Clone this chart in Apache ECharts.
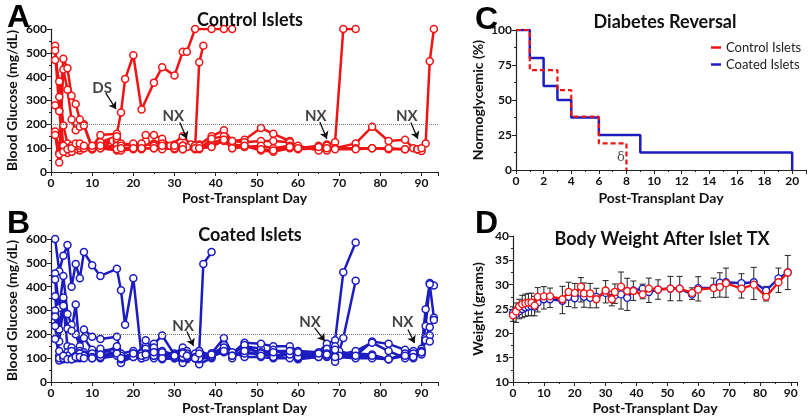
<!DOCTYPE html>
<html>
<head>
<meta charset="utf-8">
<script src="https://cdn.jsdelivr.net/npm/echarts@6/dist/echarts.min.js"></script>
<style>
  html, body { margin: 0; padding: 0; background: #fff; }
  #chart { width: 810px; height: 420px; }
</style>
</head>
<body>
<div id="chart"></div>
<script>
// ---- panel A: control islets, blood glucose per mouse [day, mg/dL]
var controlMice = [
  [[1,470],[2,380],[3,195],[4,120],[5,110],[6,105],[7,100],[10,105],[12,155],[16,160],[17,250],[18,390],[20,490],[22,262],[25,375],[27,440],[30,405],[32,505],[33,505],[35,600],[39,600],[42,600],[44,600]],
  [[1,530],[2,315],[3,100],[4,90],[5,95],[6,100],[7,90],[10,100],[12,120],[15,130],[16,130],[17,115],[20,110],[22,110],[23,125],[25,120],[27,130],[29,110],[32,150],[34,115],[35,100],[36,460],[37,530]],
  [[1,510],[2,260],[3,90],[4,100],[5,85],[6,95],[7,100],[8,100],[10,95],[12,105],[16,110],[17,95],[20,100],[22,100],[25,100],[27,100],[30,95],[32,95],[35,95],[36,100],[39,120],[42,140],[44,115],[47,110],[51,90],[54,85],[58,100],[60,95],[65,100],[67,115],[69,125],[71,600],[74,600]],
  [[1,160],[2,40],[3,110],[4,80],[5,85],[6,110],[7,110],[8,100],[10,95],[12,100],[16,90],[17,90],[20,95],[22,95],[23,130],[25,115],[27,95],[30,100],[33,105],[36,115],[39,150],[42,175],[44,130],[47,135],[51,185],[54,160],[58,130],[60,105],[65,100],[67,100],[69,100],[74,120],[78,190],[82,130],[86,135],[88,100],[89,95],[90,88],[91,120],[92,465],[93,600]],
  [[1,170],[2,80],[3,430],[4,345],[5,220],[6,175],[7,190],[8,200],[10,100],[12,100],[16,140],[17,120],[20,115],[22,110],[23,155],[25,155],[27,140],[30,100],[32,110],[35,110],[36,95],[39,140],[42,150],[44,130],[47,125],[51,130],[54,130],[58,125],[60,100],[65,110],[67,110],[69,100],[74,100],[78,100],[82,95],[86,95],[89,95]],
  [[1,280],[2,255],[3,475],[4,435],[5,320],[6,285],[7,220],[8,195],[10,100],[12,125],[16,150],[17,110],[20,120],[22,120],[25,110],[27,120],[30,115],[32,110],[35,110],[36,110],[39,110],[42,130],[44,100],[47,105],[51,110],[54,100],[58,110],[60,110],[65,90],[67,90]],
  [[1,155],[2,75],[3,85],[4,95],[5,100],[6,120],[7,120],[8,110],[10,110],[12,110],[16,95],[17,100],[20,100],[22,100],[25,100],[27,110],[30,110],[32,95],[35,100],[36,100],[39,105],[42,135],[44,100],[47,110],[51,95],[54,90],[58,105],[60,100],[65,105],[67,100],[69,95],[74,95],[78,100],[82,100],[86,95],[89,95],[90,100]]
];

// ---- panel B: coated islets
var coatedMice = [
  [[1,600],[2,465],[3,530],[4,575],[5,400],[6,495],[7,435],[8,545],[10,490],[12,445],[16,475],[17,385],[18,240],[20,435],[22,110],[23,150],[25,160],[27,195],[30,115],[32,100],[33,110],[36,130],[39,110],[42,140],[44,120],[47,150],[51,140],[54,110],[58,120],[60,110],[65,110],[67,130],[69,110],[74,110],[78,170],[82,160],[86,135],[88,130],[90,140],[91,305],[92,415],[93,405]],
  [[1,455],[2,310],[3,445],[4,285],[5,240],[6,200],[7,150],[8,220],[10,190],[12,180],[16,190],[17,120],[20,130],[22,125],[23,175],[25,130],[27,120],[30,120],[32,145],[33,130],[35,110],[36,130],[37,495],[39,545]],
  [[1,430],[2,220],[3,355],[4,225],[5,215],[6,325],[7,130],[8,185],[10,135],[12,130],[16,140],[17,100],[20,120],[22,115],[23,130],[25,145],[27,130],[30,115],[32,125],[33,120],[35,105],[36,110],[39,120],[42,185],[44,120],[47,165],[51,160],[54,150],[58,150],[60,130],[65,125],[67,160],[69,175],[71,460],[74,585]],
  [[1,360],[2,170],[3,320],[4,150],[5,145],[6,120],[7,120],[8,125],[10,115],[12,110],[16,125],[17,110],[20,110],[22,110],[23,110],[25,120],[27,110],[30,110],[32,100],[33,95],[35,100],[36,75],[39,100],[42,155],[44,100],[47,140],[51,125],[54,130],[58,130],[60,120],[65,115],[67,140],[69,150],[70,130],[71,185],[74,425]],
  [[1,300],[2,110],[3,110],[4,125],[5,130],[6,110],[7,110],[8,115],[10,120],[12,140],[16,115],[17,85],[20,105],[22,100],[23,140],[25,100],[27,105],[30,100],[32,80],[33,100],[35,100],[36,95],[39,105],[42,130],[44,115],[47,155],[51,115],[54,135],[58,110],[60,95],[65,105],[67,120],[69,85],[70,110],[74,120],[78,115],[82,95],[86,115],[88,100],[90,130],[91,235],[92,410],[93,270]],
  [[1,275],[2,90],[3,95],[4,100],[5,95],[6,100],[7,100],[8,110],[10,100],[12,100],[16,110],[17,80],[20,115],[22,100],[23,105],[25,110],[27,95],[30,100],[32,100],[33,105],[35,120],[36,110],[39,120],[42,145],[44,125],[47,105],[51,105],[54,100],[58,100],[60,100],[65,110],[67,105],[69,110],[74,130],[78,165],[82,130],[86,100],[88,110],[90,115],[91,185],[92,230],[93,260]],
  [[1,235],[2,100],[3,100],[4,110],[5,100],[6,105],[7,120],[8,110],[10,105],[12,105],[16,120],[17,95],[20,105],[22,120],[23,120],[25,110],[27,125],[30,105],[32,105],[33,110],[35,105],[36,100],[39,110],[42,125],[44,110],[47,120],[51,120],[54,105],[58,115],[60,105],[65,105],[67,110],[69,105],[74,100],[78,100],[82,95],[86,120],[88,120],[90,125],[91,185],[92,195]],
  [[1,180],[2,130],[3,110],[4,95],[5,95],[6,105],[7,105],[8,100],[10,100],[12,115],[16,150],[17,100],[20,120],[22,110],[23,115],[25,125],[27,100],[30,110],[32,120],[33,110],[35,100],[36,120],[39,115],[42,130],[44,110],[47,130],[51,110],[54,125],[58,130],[60,125],[65,120],[67,115],[69,135],[74,110],[78,110],[82,95],[86,110],[88,105],[90,125],[91,175],[92,170]]
];

// annotations: [text, textDay, textValue, arrowFromDay, arrowFromValue, arrowToDay, arrowToValue]
var notesA = [
  ['DS', 12.4, 352, 13.3, 331, 15.8, 264],
  ['NX', 29.7, 235, 31.3, 208, 33.0, 140],
  ['NX', 64.3, 235, 65.3, 210, 67.0, 140],
  ['NX', 86.4, 235, 87.4, 208, 89.1, 140]
];
var notesB = [
  ['NX', 32.1, 236, 33.0, 212, 34.6, 152],
  ['NX', 62.9, 252, 64.0, 228, 66.5, 172],
  ['NX', 85.4, 252, 86.7, 220, 88.3, 164]
];

// ---- panel C: Kaplan-Meier, % normoglycemic
var reversalControl = [[0,100],[1,71.4],[3,57.1],[4,38.1],[6,19],[8,0]];
var reversalCoated = [[0,100],[1,80],[2,60],[3,50],[4,37.5],[6,25],[9,12.5],[20,0]];

// ---- panel D: body weight (grams)
var weightDays = [0,1,2,3,4,5,6,7,8,10,12,16,18,20,22,23,25,27,30,32,33,35,37,39,42,44,47,51,54,58,60,65,67,69,74,78,82,86,89];
var weightControl = [23.7,24.5,25.5,26,26.2,26.3,26.3,25.7,27.5,27.6,27.6,27,28.5,28.3,29.6,28.2,28.2,27,28.8,27,28.5,29.6,28.7,28.7,28,29.2,29,29.2,29.2,28.3,29,29.3,29.5,30.3,29.2,30,27.5,30.5,32.5];
var weightCoated = [24.2,24,24.5,25,25.3,25.5,25.6,25.5,26.3,27,27,26.7,27.5,27.2,28.3,27.5,27.3,27.5,28.3,27.3,27.8,28,27.3,28.8,29.2,28.5,29,29.2,29.2,28,29.3,29.4,30.4,30.5,30.3,30.5,28.8,31.3,32.5];
var weightSD = [1.5,2,2,2.3,2.3,2.3,2.3,2,2.5,2.3,2,2.8,2.5,2.5,2.5,2.5,2.5,2,2.3,1.5,2,3.8,3.3,2,1.5,2.5,2,2.5,2.5,1.2,2.5,2,2.5,3,2.5,3.3,1.5,2.5,3.5];

var RED = '#f01414';
var BLUE = '#1c1cc0';
var FONT = 'Lato';

var chart = echarts.init(document.getElementById('chart'));

function xAxisFor(grid, max, interval, name, nameGap) {
  return {
    type: 'value', gridIndex: grid, min: 0, max: max, interval: interval,
    name: name, nameLocation: 'middle', nameGap: nameGap,
    nameTextStyle: { fontFamily: FONT, fontWeight: 'bold', fontSize: 14, color: '#111' },
    axisLine: { lineStyle: { color: '#222', width: 1.2 } },
    axisTick: { length: 4, lineStyle: { color: '#222' } },
    minorTick: { show: true, splitNumber: 2, length: 2, lineStyle: { color: '#222' } },
    axisLabel: {
      fontFamily: FONT, fontWeight: 'bold', fontSize: 12, color: '#111', margin: 5,
      formatter: function (v) { return v % interval === 0 ? v : ''; }
    },
    splitLine: { show: false }
  };
}
function yAxisFor(grid, min, max, interval, name, nameGap) {
  return {
    type: 'value', gridIndex: grid, min: min, max: max, interval: interval,
    name: name, nameLocation: 'middle', nameGap: nameGap, nameRotate: 90,
    nameTextStyle: { fontFamily: FONT, fontWeight: 'bold', fontSize: 14, color: '#111' },
    axisLine: { show: true, lineStyle: { color: '#222', width: 1.2 } },
    axisTick: { show: true, length: 4, lineStyle: { color: '#222' } },
    minorTick: { show: true, splitNumber: 2, length: 2, lineStyle: { color: '#222' } },
    axisLabel: { fontFamily: FONT, fontWeight: 'bold', fontSize: 12, color: '#111', margin: 4 },
    splitLine: { show: false }
  };
}

function glucoseSeries(mice, idx, color) {
  return mice.map(function (m) {
    return {
      type: 'line', xAxisIndex: idx, yAxisIndex: idx, data: m,
      symbol: 'circle', symbolSize: 7, showAllSymbol: true,
      lineStyle: { color: color, width: 2.5 },
      itemStyle: { color: '#fff', borderColor: color, borderWidth: 1.5 },
      emphasis: { disabled: true }, z: 3
    };
  });
}

function thresholdSeries(idx) {
  return {
    type: 'line', xAxisIndex: idx, yAxisIndex: idx, data: [], silent: true,
    markLine: {
      symbol: 'none', silent: true, label: { show: false },
      lineStyle: { color: '#777', type: 'dotted', width: 1 },
      data: [{ yAxis: 200 }]
    }, z: 1
  };
}

function noteSeries(notes, idx) {
  return [{
    type: 'scatter', xAxisIndex: idx, yAxisIndex: idx, symbolSize: 0, silent: true,
    data: notes.map(function (n) { return { value: [n[1], n[2]], name: n[0] }; }),
    label: {
      show: true, position: 'inside', formatter: '{b}',
      fontFamily: FONT, fontWeight: 'bold', fontSize: 15, color: '#111'
    }, z: 5
  }, {
    type: 'line', xAxisIndex: idx, yAxisIndex: idx, data: [], silent: true,
    markLine: {
      silent: true, symbol: ['none', 'arrow'], symbolSize: 7, label: { show: false },
      lineStyle: { color: '#111', type: 'solid', width: 1.3 },
      data: notes.map(function (n) { return [{ coord: [n[3], n[4]] }, { coord: [n[5], n[6]] }]; })
    }, z: 5
  }];
}

var series = []
  .concat(thresholdSeries(0))
  .concat(glucoseSeries(controlMice, 0, RED))
  .concat(noteSeries(notesA, 0))
  .concat(thresholdSeries(1))
  .concat(glucoseSeries(coatedMice, 1, BLUE))
  .concat(noteSeries(notesB, 1));

// panel C
series.push({
  name: 'Coated Islets', type: 'line', step: 'end', xAxisIndex: 2, yAxisIndex: 2,
  data: reversalCoated, symbol: 'none', lineStyle: { color: BLUE, width: 2.5 },
  itemStyle: { color: BLUE }, z: 3
});
series.push({
  name: 'Control Islets', type: 'line', step: 'end', xAxisIndex: 2, yAxisIndex: 2,
  data: reversalControl, symbol: 'none', lineStyle: { color: RED, width: 2.2, type: [5, 3] },
  itemStyle: { color: RED }, z: 4
});
series.push({
  type: 'scatter', xAxisIndex: 2, yAxisIndex: 2, symbolSize: 0, silent: true,
  data: [{ value: [7.6, 9], name: 'δ' }],
  label: { show: true, position: 'inside', formatter: '{b}', fontFamily: 'DejaVu Serif', fontSize: 13, color: '#222' }
});

// panel D
function zip(days, vals) { return days.map(function (d, i) { return [d, vals[i]]; }); }
series.push({
  type: 'custom', xAxisIndex: 3, yAxisIndex: 3, silent: true, z: 2,
  data: weightDays.map(function (d, i) {
    var mid = (weightControl[i] + weightCoated[i]) / 2;
    return [d, mid - weightSD[i], mid + weightSD[i]];
  }),
  renderItem: function (params, api) {
    var lo = api.coord([api.value(0), api.value(1)]);
    var hi = api.coord([api.value(0), api.value(2)]);
    var w = 3;
    var st = { stroke: '#333', lineWidth: 1.1 };
    return {
      type: 'group', children: [
        { type: 'line', shape: { x1: lo[0], y1: lo[1], x2: hi[0], y2: hi[1] }, style: st },
        { type: 'line', shape: { x1: lo[0] - w, y1: lo[1], x2: lo[0] + w, y2: lo[1] }, style: st },
        { type: 'line', shape: { x1: hi[0] - w, y1: hi[1], x2: hi[0] + w, y2: hi[1] }, style: st }
      ]
    };
  }
});
series.push({
  type: 'line', xAxisIndex: 3, yAxisIndex: 3, data: zip(weightDays, weightCoated),
  symbol: 'circle', symbolSize: 7, lineStyle: { color: BLUE, width: 2.4 },
  itemStyle: { color: '#fff', borderColor: BLUE, borderWidth: 1.3 }, z: 3
});
series.push({
  type: 'line', xAxisIndex: 3, yAxisIndex: 3, data: zip(weightDays, weightControl),
  symbol: 'circle', symbolSize: 7, lineStyle: { color: RED, width: 2.4 },
  itemStyle: { color: '#fff', borderColor: RED, borderWidth: 1.3 }, z: 4
});

var titleStyle = { fontFamily: FONT, fontWeight: 'bold', fontSize: 18, color: '#111' };
var letterStyle = { fontFamily: 'Liberation Sans', fontWeight: 'bold', fontSize: 32, color: '#000' };

function legendFor(name, top, color) {
  return {
    data: [name], orient: 'vertical', left: 706, top: top,
    icon: 'rect', itemWidth: 10, itemHeight: 2.5, selectedMode: false,
    itemStyle: { color: color, borderColor: color, borderWidth: 0, borderType: 'solid' },
    lineStyle: { color: color, width: 0, type: 'solid' },
    textStyle: { fontFamily: FONT, fontSize: 13, color: '#222' }
  };
}

chart.setOption({
  animation: false,
  title: [
    { text: 'A', left: 2, top: -3, textStyle: letterStyle },
    { text: 'B', left: 2, top: 203, textStyle: letterStyle },
    { text: 'C', left: 470, top: -1, textStyle: letterStyle },
    { text: 'D', left: 470, top: 203, textStyle: letterStyle },
    { text: 'Control Islets', left: 245, top: 6, textAlign: 'center', textStyle: titleStyle },
    { text: 'Coated Islets', left: 245, top: 221, textAlign: 'center', textStyle: titleStyle },
    { text: 'Diabetes Reversal', left: 660, top: 8, textAlign: 'center', textStyle: titleStyle },
    { text: 'Body Weight After Islet TX', left: 657, top: 225, textAlign: 'center', textStyle: titleStyle }
  ],
  legend: [
    legendFor('Control Islets', 36, RED),
    legendFor('Coated Islets', 53, BLUE)
  ],
  grid: [
    { left: 51, top: 29, width: 387, height: 143 },
    { left: 51, top: 239, width: 387, height: 143 },
    { left: 516, top: 30, width: 290, height: 140 },
    { left: 513, top: 236, width: 284, height: 146 }
  ],
  xAxis: [
    xAxisFor(0, 94, 10, 'Post-Transplant Day', 19),
    xAxisFor(1, 94, 10, 'Post-Transplant Day', 19),
    xAxisFor(2, 21, 2, 'Post-Transplant Day', 21),
    xAxisFor(3, 92, 10, 'Post-Transplant Day', 19)
  ],
  yAxis: [
    yAxisFor(0, 0, 600, 100, 'Blood Glucose (mg/dL)', 32),
    yAxisFor(1, 0, 600, 100, 'Blood Glucose (mg/dL)', 32),
    yAxisFor(2, 0, 100, 25, 'Normoglycemic (%)', 31),
    yAxisFor(3, 10, 40, 5, 'Weight (grams)', 28)
  ],
  series: series
});
</script>
</body>
</html>
